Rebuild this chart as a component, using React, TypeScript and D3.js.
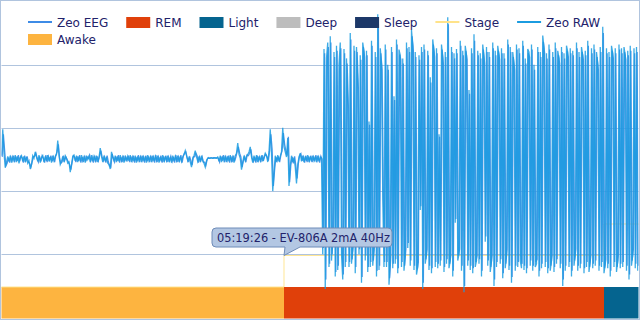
import React from "react";
import * as d3 from "d3";

// ---- data ----
const startTime = "05:17:33"; // time of first sample
const sampleStep = 0.5; // seconds between samples
const recordEnd = 254.8; // seconds from start
const eegTimeOffset = 0.25; // EEG samples lag RAW slightly

const rawQuiet = [
  6, 48, 10, -13, -4, 5, -3, 6, -5, 4, -2, 7, -4, 5, -6, 3, 6, -3, 5, -4,
  4, -6, -2, -15, -8, 6, 2, 12, 4, -3, 7, -5, 3, 6, -4, 5, -2, 7, -3, 4,
  -5, 6, -2, 5, 8, 30, 6, -8, -3, 5, -4, 6, 2, -6, -4, -20, -8, 5, 7, -2,
  6, -4, 5, -3, 7, -2, 4, -5, 6, 0, 5, -4, 7, -3, 5, -2, 6, -4, 3, 18,
  5, -4, 6, -3, 4, -6, -8, -15, 12, 4, -2, 6, -4, 5, -3, 7, -2, 4, -5, 6,
  -3, 5, -2, 7, -4, 4, -3, 6, -5, 5, -2, 4, -4, 6, -3, 5, -5, 7, -2, 4,
  -4, 6, -3, 5, -2, 6, -5, 4, -3, 7, -4, 5, -2, 6, -4, 3, -5, 6, -3, 5,
  -2, 6, -4, 5, -3, 4, 8, 14, 6, -2, 3, -4, -12, 2, 6, 14, 4, -3, 5, -4,
  6, -2, -6, -12, -2, 2, 2, 2, 3, 2, 2, 3, 2, 4, -3, 6, -4, 5, -2, 6,
  -4, 5, -3, 7, -2, 4, -5, 6, 10, 26, 8, 2, -16, -4, 6, -2, 5, 8, 12, 20,
  4, -5, 6, -3, 7, -4, 5, -2, 6, -3, 4, 10, 6, -4, 12, 48, 10, -50, -20, 6,
  -4, 7, -3, 5, 12, 50, 20, 12, 4, 34, -42, -10, 6, -4, 3, -12, -38, -8, 4, 10,
  -3, 6, -4, 5, -2, 7, -4, 5, -3, 6, -2, 5, -4, 6, -3, 4, 2,
];
const rawLoud = [
  -150, 175, -205, 160, 185, -170, 195, -160, -120, 170, -185, 180, -175, 150, 185, -150, -190, 175, -170, 160,
  90, -170, 200, -165, -140, 180, -180, 178, 120, -150, 165, -195, 185, 170, -160, 172, -178, 60, -170, 188,
  -168, -140, 170, -185, 230, -175, 176, 150, -60, -170, 182, -170, 150, -198, -160, 178, -172, 100, -165, 190,
  -180, 174, 165, -170, 160, -176, -150, 185, -140, 178, -168, 205, 180, -175, 170, -182, -170, 165, -80, 178,
  -205, 182, -165, -150, 172, -175, 130, -180, 190, 170, -170, 176, -172, 40, -168, 182, 160, -178, 170, -165,
  225, -172, -160, 178, -185, 168, -100, 175, -160, -150, 188, -176, 172, -210, 180, 165, -168, 110, -175, 176,
  -180, 198, -170, -160, 172, -165, 168, -185, 182, 160, -130, 178, -168, 170, -178, -160, 185, -200, 172, -170,
  180, 165, -165, 176, -188, 168, -172, -150, 190, -175, 178, -195, 170, 150, -176, 182, -170, 176, -160, -172,
  188, -175, 160, -180, 175, 170, -168, 182, -176, 150, -170, -165, 178, -185, 170, -172, 196, 176, -170, 168,
  -180, 182, -176, -160, 170, -178, 185, -165, 172, 160, -172, 178, -200, 168, -176, 180, 170, -170, 176, -185,
  172, -168, -150, 185, -176, 170, -172, 178, 165, -180, 172, -170, 188, -178, -160, 176, -172, 182, -168, 170,
  150, -176, 178, -170, 210, -180, -165, 176, -172, 170, -185, 180, 168, -170, 176, -178, -160, 182, -172, 176,
  -170, 178, 165, -176, 172, -190, 180, -168, -150, 176, -172, 178, -176,
];
const eegQuiet = [
  4, 40, 14, -10, -6, 3, -5, 4, -2, 6, -4, 5, -2, 7, -3, 5, 3, -5, 6, -2,
  5, -4, -6, -12, -4, 4, 5, 10, 2, -4, 5, -3, 6, 2, -5, 7, -4, 5, -1, 6,
  -3, 4, -4, 7, 12, 24, 2, -6, -4, 6, -2, 4, 0, -4, -8, -16, -4, 6, 4, -4,
  5, -2, 7, -5, 4, -4, 6, -3, 4, 2, 7, -2, 4, -5, 6, -4, 5, -2, 6, 14,
  4, -2, 4, -5, 6, -4, -10, -12, 9, 2, -4, 5, -2, 7, -5, 4, -4, 6, -3, 4,
  -1, 6, -4, 5, -2, 6, -5, 4, -3, 7, -4, 6, -2, 4, -5, 6, -3, 5, -4, 6,
  -2, 4, -5, 7, -4, 4, -3, 6, -5, 5, -2, 6, -4, 4, -2, 5, -3, 4, -5, 7,
  -4, 4, -2, 7, -5, 6, 10, 12, 3, -4, 5, -2, -9, 4, 4, 10, 6, -5, 4, -2,
  4, -4, -4, -9, 0, 3, 2, 3, 2, 3, 3, 2, 3, 2, -4, 5, -2, 7, -4, 4,
  -2, 6, -5, 5, -4, 6, -3, 4, 12, 20, 10, 4, -12, -2, 4, -4, 7, 6, 10, 16,
  2, -3, 4, -5, 6, -2, 4, -4, 7, -2, 5, 8, 4, -2, 14, 40, 16, -42, -16, 4,
  -2, 5, -4, 7, 14, 42, 24, 14, 6, 36, -36, -8, 4, -6, 5, -10, -30, -6, 6, 9,
  -2, 4, -5, 6, -4, 5, -2, 6, -4, 4, -3, 7, -2, 4, -5, 5, 0,
];
const eegLoud = [
  -140, 168, -190, 150, 178, -165, 185, -150, -112, 162, -178, 172, -168, 142, 176, -144, -182, 168, -162, 152,
  84, -162, 190, -158, -132, 172, -170, 170, 112, -142, 158, -186, 178, 162, -152, 165, -170, 55, -162, 180,
  -160, -132, 162, -176, 218, -168, 168, 142, -55, -162, 174, -162, 142, -188, -152, 170, -165, 94, -158, 182,
  -172, 166, 158, -162, 152, -168, -142, 176, -132, 170, -160, 195, 172, -168, 162, -174, -162, 158, -74, 170,
  -195, 174, -158, -142, 165, -168, 122, -172, 182, 162, -162, 168, -165, 36, -160, 174, 152, -170, 162, -158,
  214, -165, -152, 170, -176, 160, -94, 168, -152, -142, 180, -168, 165, -200, 172, 158, -160, 104, -168, 168,
  -172, 188, -162, -152, 165, -158, 160, -176, 174, 152, -122, 170, -160, 162, -170, -152, 176, -190, 165, -162,
  172, 158, -158, 168, -180, 160, -165, -142, 182, -168, 170, -186, 162, 142, -168, 174, -162, 168, -152, -165,
  180, -168, 152, -172, 168, 162, -160, 174, -168, 142, -162, -158, 170, -176, 162, -165, 186, 168, -162, 160,
  -172, 174, -168, -152, 162, -170, 176, -158, 165, 152, -165, 170, -190, 160, -168, 172, 162, -162, 168, -176,
  165, -160, -142, 176, -168, 162, -165, 170, 158, -172, 165, -162, 180, -170, -152, 168, -165, 174, -160, 162,
  142, -168, 170, -162, 200, -172, -158, 168, -165, 162, -176, 172, 160, -162, 168, -170, -152, 174, -165, 168,
  -162, 170, 158, -168, 165, -182, 172, -160, -142, 168, -165, 170, -168,
];
const zeoRaw = [...rawQuiet, ...rawLoud];
const zeoEeg = [...eegQuiet, ...eegLoud];

const stageNames = ["Awake", "REM", "Light"];
const stageStarts = [0, 113, 241];
const stageLevel: Record<string, number> = { Awake: 0, REM: 1, Light: 2, Deep: 3 };
const gridTicks = [150, 50, -50, -150];
const tooltipLabel = "EV-806A 2mA 40Hz";

const legendItems = [
  { name: "Zeo EEG", kind: "line", color: "#3d8be6" },
  { name: "REM", kind: "rect", color: "#e0400a" },
  { name: "Light", kind: "rect", color: "#05648f" },
  { name: "Deep", kind: "rect", color: "#bdbdbd" },
  { name: "Sleep", kind: "rect", color: "#1c3868" },
  { name: "Stage", kind: "line", color: "#ffe38a" },
  { name: "Zeo RAW", kind: "line", color: "#1b9ce0" },
  { name: "Awake", kind: "rect", color: "#fdb440" },
];
const stageColor: Record<string, string> = {
  Awake: "#fdb440",
  REM: "#e0400a",
  Light: "#05648f",
  Deep: "#bdbdbd",
  Sleep: "#1c3868",
};

const W = 640;
const H = 320;
const FONT = "'DejaVu Sans', Verdana, sans-serif";
const TEXT = "#22226a";

function fmtTime(sec: number) {
  const [h, m, s] = startTime.split(":").map(Number);
  const t = h * 3600 + m * 60 + s + Math.round(sec);
  const p = (n: number) => String(n).padStart(2, "0");
  return `${p(Math.floor(t / 3600) % 24)}:${p(Math.floor(t / 60) % 60)}:${p(t % 60)}`;
}

function measure(text: string) {
  const c = document.createElement("canvas").getContext("2d")!;
  c.font = `12px ${FONT}`;
  return c.measureText(text).width;
}

export default function App() {
  const left = 1.5, right = 638.5, top = 1.5, bottom = 318.5;
  const x = d3.scaleLinear().domain([0, recordEnd]).range([left, right]);
  const y = d3.scaleLinear().domain([-250, 250]).range([317.5, 1.5]);
  const sy = d3.scaleLinear().domain([0, 1]).range([287, 255.5]);

  const lineAt = (offset: number) =>
    d3
      .line<number>()
      .x((_, i) => x(i * sampleStep + offset))
      .y((v) => y(v));

  const ends = [...stageStarts.slice(1), recordEnd];
  const stagePts: [number, number][] = [];
  stageNames.forEach((n, i) => {
    stagePts.push([x(stageStarts[i]), sy(stageLevel[n])]);
    stagePts.push([x(ends[i]), sy(stageLevel[n])]);
  });
  const stagePath = d3.line()(stagePts) || "";

  // legend layout
  const legend: { item: (typeof legendItems)[0]; lx: number; ly: number }[] = [];
  let lx = 28, ly = 22;
  legendItems.forEach((item) => {
    const w = 24 + 5 + measure(item.name);
    if (lx + w > W - 10) {
      lx = 28;
      ly += 17;
    }
    legend.push({ item, lx, ly });
    lx += w + 18;
  });

  // tooltip
  const tipT = stageStarts[1];
  const ax = x(tipT), ay = sy(stageLevel["REM"]);
  const bx = ax - 72, bw = 180, bh = 19, by = ay - 27.5, r = 4;
  const bb = by + bh;
  const tipPath = `M${bx + r},${by} H${bx + bw - r} Q${bx + bw},${by} ${bx + bw},${by + r} V${bb - r} Q${bx + bw},${bb} ${bx + bw - r},${bb} H${ax + 16} L${ax},${ay} L${ax + 1},${bb} H${bx + r} Q${bx},${bb} ${bx},${bb - r} V${by + r} Q${bx},${by} ${bx + r},${by} Z`;

  return (
    <svg
      width={W}
      height={H}
      style={{ position: "absolute", left: 0, top: 0, background: "#fff" }}
      fontFamily={FONT}
    >
      <defs>
        <clipPath id="plot">
          <rect x={left} y={top} width={right - left} height={bottom - top} />
        </clipPath>
      </defs>
      {gridTicks.map((t) => (
        <line
          key={t}
          x1={left}
          x2={right}
          y1={Math.round(y(t)) + 0.5}
          y2={Math.round(y(t)) + 0.5}
          stroke="#b0c4de"
          strokeWidth={1}
        />
      ))}
      {stageNames.map((n, i) => (
        <rect
          key={n}
          x={x(stageStarts[i])}
          y={sy(0)}
          width={x(ends[i]) - x(stageStarts[i])}
          height={bottom - sy(0)}
          fill={stageColor[n]}
        />
      ))}
      <path d={stagePath} fill="none" stroke="#ffe38a" strokeWidth={1} opacity={0.9} />
      <g clipPath="url(#plot)">
        <path d={lineAt(eegTimeOffset)(zeoEeg) || ""} fill="none" stroke="#3d8be6" strokeWidth={1.3} opacity={0.9} />
        <path d={lineAt(0)(zeoRaw) || ""} fill="none" stroke="#1b9ce0" strokeWidth={1.3} opacity={0.85} />
      </g>
      <path d={tipPath} fill="#b3c7e3" stroke="#6f8cb8" strokeWidth={1} />
      <text x={bx + 5} y={by + 14} fontSize={11.4} fill={TEXT}>
        {`${fmtTime(tipT)} - ${tooltipLabel}`}
      </text>
      {legend.map(({ item, lx, ly }) => (
        <g key={item.name}>
          {item.kind === "line" ? (
            <line x1={lx} x2={lx + 24} y1={ly} y2={ly} stroke={item.color} strokeWidth={2} />
          ) : (
            <rect x={lx} y={ly - 5} width={24} height={11} fill={item.color} />
          )}
          <text x={lx + 29} y={ly + 4.5} fontSize={12} fill={TEXT}>
            {item.name}
          </text>
        </g>
      ))}
      <rect x={0.5} y={0.5} width={W - 1} height={H - 1} fill="none" stroke="#b0c4de" strokeWidth={1} />
    </svg>
  );
}
